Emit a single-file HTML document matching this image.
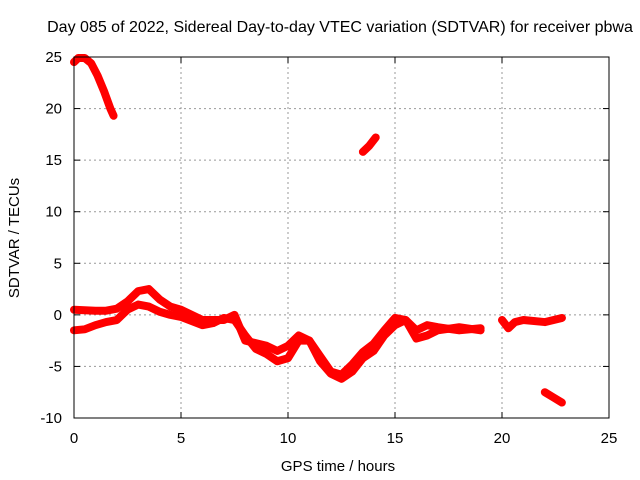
<!DOCTYPE html>
<html><head><meta charset="utf-8"><style>
body{margin:0;background:#fff;}
svg{display:block;font-family:"Liberation Sans",sans-serif;}
</style></head><body>
<svg id="chart" width="640" height="480">
<text x="340" y="32" font-size="16" text-anchor="middle">Day 085 of 2022, Sidereal Day-to-day VTEC variation (SDTVAR) for receiver pbwa</text>
<g id="grid"></g><g id="marks"></g><g id="axes"></g>
<text x="338" y="471" font-size="15" text-anchor="middle">GPS time / hours</text>
<text transform="translate(19,238) rotate(-90)" font-size="15" text-anchor="middle">SDTVAR / TECUs</text>
</svg>
<script>
const xTicks=[0,5,10,15,20,25];
const yTicks=[-10,-5,0,5,10,15,20,25];
const s1x=[0,0.2,0.5,0.8,1.1,1.4,1.7,1.85];
const s1y=[24.5,24.9,24.9,24.4,23.2,21.7,20,19.3];
const s2x=[13.5,13.8,14.1];
const s2y=[15.8,16.4,17.2];
const s3x=[0,1,1.5,2,2.5,3,3.5,4,4.5,5,6,7,7.5,8,9,9.5,10,10.5,11,11.5,12,12.5,13,13.5,14,14.5,15,15.5,16,16.5,17,18,19];
const s3y=[0.5,0.4,0.4,0.6,1.3,2.3,2.5,1.5,0.8,0.5,-0.5,-0.5,0,-2.5,-3,-3.5,-3,-2,-2.5,-4.5,-5.7,-6.2,-5.5,-4.2,-3.5,-2,-1,-0.5,-2.3,-2,-1.5,-1.2,-1.5];
const s4x=[0,0.5,1,1.5,2,2.5,3,3.5,4,4.5,5,5.5,6,6.5,7,7.5,8,8.5,9,9.5,10,10.5,11,11.5,12,12.5,13,13.5,14,14.5,15,15.5,16,16.5,17,18,19];
const s4y=[-1.5,-1.4,-1,-0.7,-0.5,0.5,1,0.8,0.3,0,-0.2,-0.6,-1,-0.8,-0.3,-0.5,-2,-3.3,-3.8,-4.5,-4.2,-2.5,-2.5,-4,-5.5,-5.8,-4.8,-3.6,-2.8,-1.5,-0.3,-0.5,-1.5,-1,-1.2,-1.5,-1.3];
const s5x=[20,20.3,20.6,21,22,22.8];
const s5y=[-0.5,-1.3,-0.7,-0.5,-0.7,-0.3];
const s6x=[22,22.4,22.8];
const s6y=[-7.5,-8,-8.5];
const L=74,R=609,T=57,B=418;
const X=v=>L+(v-0)/25*(R-L);
const Y=v=>B-(v+10)/35*(B-T);
const NS="http://www.w3.org/2000/svg";
const g=document.getElementById('grid'),m=document.getElementById('marks'),a=document.getElementById('axes');
function mk(t,p,at){const e=document.createElementNS(NS,t);for(const k in at)e.setAttribute(k,at[k]);p.appendChild(e);return e;}
xTicks.forEach(v=>{
 if(v>0&&v<25){const l=mk('line',g,{x1:X(v),x2:X(v),y1:T,y2:B,stroke:'#999','stroke-dasharray':'2,3'});
 
 }
 const t=mk('text',a,{x:X(v),y:B+25,'font-size':15,'text-anchor':'middle'});t.textContent=v;
 
 
 mk('line',a,{x1:X(v),x2:X(v),y1:B,y2:B-6,stroke:'#000'});mk('line',a,{x1:X(v),x2:X(v),y1:T,y2:T+6,stroke:'#000'});
});
yTicks.forEach(v=>{
 if(v>-10&&v<25){const l=mk('line',g,{x1:L,x2:R,y1:Y(v),y2:Y(v),stroke:'#999','stroke-dasharray':'2,3'});
 
 }
 const t=mk('text',a,{x:L-12,y:Y(v)+5,'font-size':15,'text-anchor':'end'});t.textContent=v;
 
 
 mk('line',a,{x1:L,x2:L+6,y1:Y(v),y2:Y(v),stroke:'#000'});mk('line',a,{x1:R,x2:R-6,y1:Y(v),y2:Y(v),stroke:'#000'});
});
const fr=mk('rect',a,{x:L,y:T,width:R-L,height:B-T,fill:'none',stroke:'#000'});


[[s1x,s1y,'series-arc-top'],[s2x,s2y,'series-segment-16'],[s3x,s3y,'series-band-a'],[s4x,s4y,'series-band-b'],[s5x,s5y,'series-late'],[s6x,s6y,'series-late-low']].forEach(([xs,ys,n])=>{
 const p=mk('polyline',m,{points:xs.map((x,i)=>X(x)+','+Y(ys[i])).join(' '),fill:'none',stroke:'#f00','stroke-width':8,'stroke-linejoin':'round','stroke-linecap':'round'});
 
 
});
</script>
</body></html>
